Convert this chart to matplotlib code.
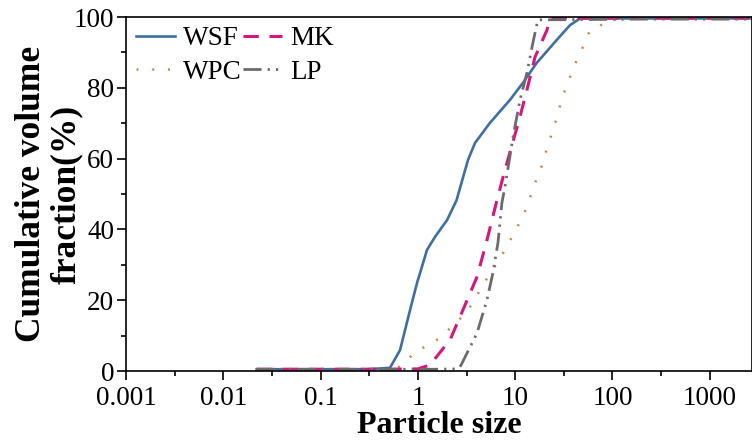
import numpy as np
import matplotlib
matplotlib.use('Agg')
import matplotlib.pyplot as plt
from matplotlib.ticker import FixedLocator, NullFormatter

# values (particle size, cumulative %)
wsf_x = [0.022, 0.3, 0.516, 0.655, 0.83, 0.98, 1.24, 1.50, 2.0, 2.5, 3.27, 3.86,
         5.5, 8.85, 12.0, 16.6, 26.7, 36.6, 46.6, 200, 2800]
wsf_y = [0.5, 0.5, 0.9, 5.9, 17.2, 24.9, 34.2, 37.9, 42.7, 48.3, 59.6, 64.4,
         70.1, 76.6, 81.4, 87.0, 93.5, 97.7, 99.6, 99.6, 99.6]

mk_x = [0.022, 0.5, 1.0, 1.33, 2.14, 2.71, 4.05, 5.13, 6.5, 7.85, 11.2, 13.2,
        16.0, 21.2, 22.8, 200, 2800]
mk_y = [0.5, 0.5, 0.6, 1.7, 8.8, 15.3, 26.6, 37.0, 48.3, 56.8, 71.8, 79.4,
        88.7, 96.3, 99.7, 99.7, 99.7]

wpc_x = [0.022, 0.45, 0.58, 0.70, 0.87, 1.24, 1.69, 2.84, 3.68, 4.35, 5.25, 6.5,
         7.85, 9.5, 11.2, 13.2, 14.9, 16.7, 19.3, 21.2, 23.9, 26.9, 29.6, 33.3,
         38.4, 44.2, 52.2, 58.7, 74, 94, 141, 500, 2800]
wpc_y = [0.5, 0.5, 0.6, 1.7, 4.5, 7.3, 9.3, 15.3, 19.2, 22.9, 26.6, 30.5,
         34.2, 38.4, 42.1, 46.3, 50.6, 54.5, 58.8, 63.0, 67.2, 71.8, 76.0, 80.2,
         84.5, 88.7, 92.7, 96.3, 97.5, 99.2, 99.6, 99.6, 99.6]

lp_x = [0.022, 1.5, 2.5, 2.71, 4.05, 5.13, 5.9, 6.65, 7.3, 7.85, 9.5, 11.2,
        13.2, 15.2, 17.1, 200, 2800]
lp_y = [0.5, 0.5, 0.6, 1.1, 10.7, 20.1, 27.7, 36.2, 47.5, 52.0, 66.1, 76.6,
        84.2, 92.7, 99.2, 99.4, 99.4]

plt.rcParams['font.family'] = ['Liberation Serif', 'DejaVu Serif']

fig = plt.figure(figsize=(7.52, 4.43), dpi=100)
ax = fig.add_axes([0.1676, 0.1625, 0.8324, 0.7991])

# plotted in column order so the 2-col legend reads WSF MK / WPC LP
ax.plot(wsf_x, wsf_y, color='#3f6fa0', lw=1.9, label='WSF')
ax.plot(wpc_x, wpc_y, color='#c8874a', lw=1.8, linestyle=(0, (0.8, 5.5)), label='WPC')
ax.plot(mk_x, mk_y, color='#d4177c', lw=2.2, linestyle=(0, (5, 3.5)), label='MK')
ax.plot(lp_x, lp_y, color='#6b6b6b', lw=2.0,
        linestyle=(0, (6.5, 2.2, 0.8, 2.2, 0.8, 2.2)), label='LP')

ax.set_xscale('log')
ax.set_xlim(0.001, 2717)
ax.set_ylim(0, 100)

ax.xaxis.set_major_locator(FixedLocator([0.001, 0.01, 0.1, 1, 10, 100, 1000]))
ax.set_xticklabels(['0.001', '0.01', '0.1', '1', '10', '100', '1000'])
ax.xaxis.set_minor_locator(FixedLocator([10 ** (k + 0.5) for k in range(-3, 4)]))
ax.xaxis.set_minor_formatter(NullFormatter())
ax.set_yticks([0, 20, 40, 60, 80, 100])
ax.set_yticks([10, 30, 50, 70, 90], minor=True)

ax.tick_params(which='major', direction='out', length=6.5, width=1.2, labelsize=19.5)
ax.tick_params(axis='y', which='major', pad=2)
ax.tick_params(axis='x', which='major', pad=4)
ax.tick_params(which='minor', direction='out', length=3.5, width=1.2)
for s in ax.spines.values():
    s.set_linewidth(1.2)

ax.set_xlabel('Particle size', fontsize=23, fontweight='bold', labelpad=0)
ax.set_ylabel('Cumulative volume\nfraction(%)', fontsize=25.5, fontweight='bold',
              labelpad=-7, linespacing=1.1)

ax.legend(ncol=2, loc='upper left', frameon=False, fontsize=19.5,
          handlelength=1.45, handletextpad=0.3, columnspacing=0.05,
          labelspacing=0.3, borderaxespad=0.15, borderpad=0.2)

fig.savefig('out.png', dpi=100)
